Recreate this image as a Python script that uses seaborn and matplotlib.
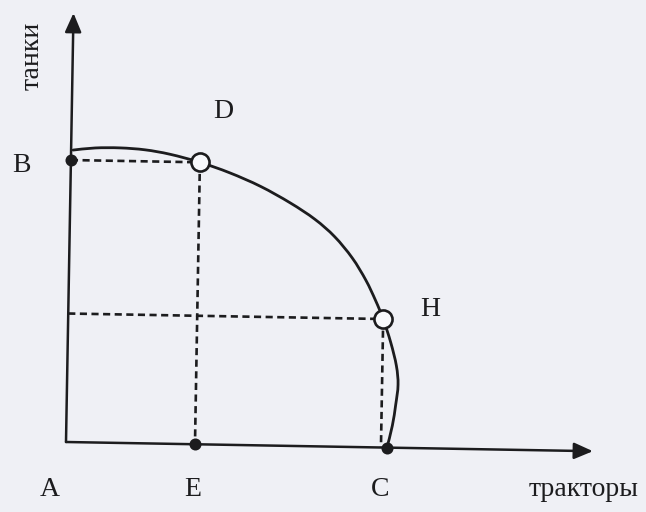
import matplotlib
matplotlib.use("Agg")
import matplotlib.pyplot as plt
from matplotlib.transforms import Affine2D
from matplotlib.path import Path
from matplotlib.patches import PathPatch
import numpy as np
import seaborn as sns

# Кривая производственных возможностей (точки)
tractors_curve = [0.2, 2.4, 4.9, 7.4, 9.9, 12.9, 15.9, 19.0, 22.0, 24.5, 26.5,
                  28.3, 29.7, 30.7, 31.5, 32.3, 32.9, 33.1, 32.9, 32.6, 32.1]
tanks_curve = [29.2, 29.45, 29.5, 29.35, 28.95, 28.2, 27.2, 25.9, 24.3, 22.7,
               21.0, 18.9, 16.7, 14.7, 12.85, 10.5, 8.2, 6.3, 4.3, 2.2, 0.0]

# Точки на осях и на кривой
axis_points = ["B", "E", "C"]
axis_x = [0.0, 12.9, 32.1]
axis_y = [28.2, 0.0, 0.0]

curve_points = ["D", "H"]
curve_x = [12.9, 31.5]
curve_y = [28.2, 12.85]

x_label = "тракторы"
y_label = "танки"

ink = "#1c1c1e"
paper = "#eff0f5"


def smooth_path(xs, ys):
    """Плавная линия через точки (сплайн Катмулла-Рома в виде кривых Безье)"""
    p = np.column_stack([xs, ys])
    p = np.vstack([p[0], p, p[-1]])
    verts = [p[1]]
    codes = [Path.MOVETO]
    for i in range(1, len(p) - 2):
        c1 = p[i] + (p[i + 1] - p[i - 1]) / 6
        c2 = p[i + 1] - (p[i + 2] - p[i]) / 6
        verts += [c1, c2, p[i + 1]]
        codes += [Path.CURVE4] * 3
    return Path(verts, codes)


sns.set_theme(style="white")
plt.rcParams["font.family"] = ["Liberation Serif", "DejaVu Serif"]

fig = plt.figure(figsize=(6.46, 5.12), dpi=100, facecolor=paper)
ax = fig.add_axes([0, 0, 1, 1])
ax.axis("off")

# скан слегка повёрнут
tr = Affine2D().rotate_deg(-1.0) + ax.transData

# оси со стрелками
arrow = dict(arrowstyle="-|>,head_length=1.15,head_width=0.5", lw=1.8,
             color=ink, shrinkA=0, shrinkB=0, mutation_scale=10)
ax.annotate("", xy=(52.7, 0), xytext=(0, 0), xycoords=tr, textcoords=tr,
            arrowprops=arrow)
ax.annotate("", xy=(0, 42.9), xytext=(0, 0), xycoords=tr, textcoords=tr,
            arrowprops=arrow)

# пунктирные проекции
dash = dict(color=ink, lw=1.9, dashes=(2.7, 1.7), transform=tr, zorder=2)
dx, dy = curve_x[0], curve_y[0]
hx, hy = curve_x[1], curve_y[1]
ax.plot([axis_x[0], dx], [dy, dy], **dash)
ax.plot([dx, dx], [dy, axis_y[1]], **dash)
ax.plot([0, hx], [hy, hy], **dash)
ax.plot([hx, hx], [hy, 0], **dash)

# кривая
ax.add_patch(PathPatch(smooth_path(tractors_curve, tanks_curve), fc="none",
                       ec=ink, lw=2.0, transform=tr, zorder=3,
                       capstyle="round"))

# точки
sns.scatterplot(x=axis_x, y=axis_y, s=75, color=ink, edgecolor=ink,
                linewidth=0, transform=tr, zorder=4, ax=ax)
sns.scatterplot(x=curve_x, y=curve_y, s=170, color="#f8f9fc", edgecolor=ink,
                linewidth=1.9, transform=tr, zorder=5, ax=ax)

ax.set_xlim(-6.6, 58.0)
ax.set_ylim(-7.0, 44.2)

# подписи
fs = 20
txt = dict(fontsize=fs, color=ink, ha="center", va="center")
ax.text(-4.5, 27.6, "B", **txt)
ax.text(15.7, 33.1, "D", **txt)
ax.text(36.4, 13.3, "H", **txt)
ax.text(-1.6, -4.8, "A", **txt)
ax.text(12.7, -4.8, "E", **txt)
ax.text(31.4, -4.8, "C", **txt)
ax.text(51.8, -4.8, x_label, **txt)
ax.text(-3.4, 38.6, y_label, rotation=90, **txt)

fig.savefig("out.png", dpi=100, facecolor=paper)
plt.close(fig)
